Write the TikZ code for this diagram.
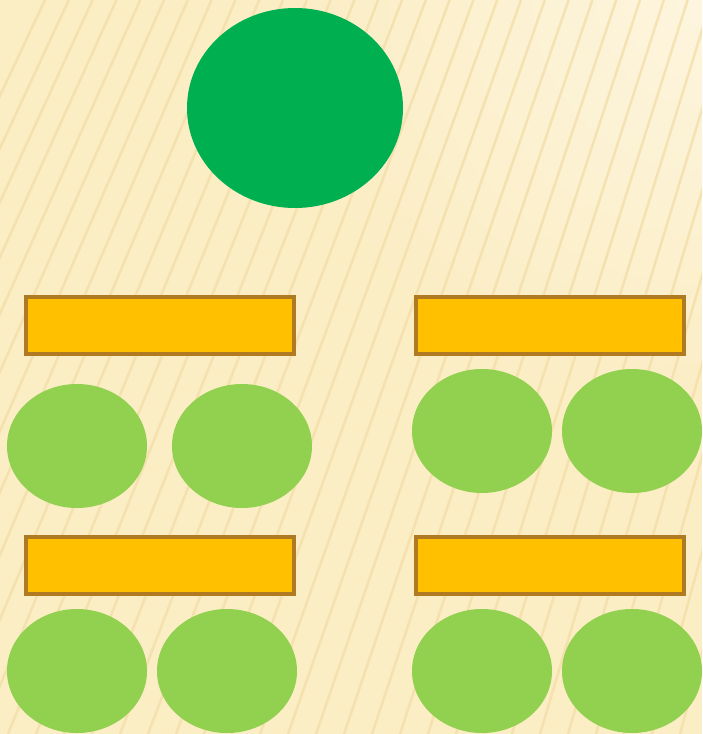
\documentclass[tikz,border=0pt]{standalone}
\usepackage{tikz}
\usetikzlibrary{shapes.geometric}
\usepackage{xcolor}
\definecolor{paper}{HTML}{FBEDC4}
\definecolor{paperlight}{HTML}{FDF5DE}
\definecolor{stripe}{HTML}{F2DCA4}
\definecolor{darkgreen}{HTML}{00B050}
\definecolor{lightgreen}{HTML}{92D050}
\definecolor{gold}{HTML}{FFC000}
\definecolor{rim}{HTML}{B07A22}

\begin{document}
\begin{tikzpicture}[x=1pt,y=-1pt,
  bigdot/.style={ellipse,fill=darkgreen,minimum width=216pt,minimum height=200pt,inner sep=0pt},
  dot/.style={ellipse,fill=lightgreen,minimum width=140pt,minimum height=124pt,inner sep=0pt},
  bar/.style={rectangle,fill=gold,draw=rim,line width=4pt,minimum width=268pt,minimum height=57pt,inner sep=0pt}]
  \useasboundingbox (0,0) rectangle (702,734);
  % background with diagonal stripes
  \begin{scope}
    \clip (0,0) rectangle (702,734);
    \fill[paper](0,0) rectangle (702,734);
    \shade[inner color=paperlight,outer color=paper](702,0) circle (420);
    \foreach \x in {-300,-272,...,740}{
      \draw[stripe,line width=2.5pt,opacity=0.7](\x,734)--({\x+300-0.15*\x},0);
    }
  \end{scope}
  % top
  \node[bigdot] (top) at (295,108) {};
  % bars
  \node[bar] (barA) at (160,325.5) {};
  \node[bar] (barB) at (550,325.5) {};
  \node[bar] (barC) at (160,565.5) {};
  \node[bar] (barD) at (550,565.5) {};
  % dots
  \node[dot] (a1) at (77,446) {}; \node[dot] (a2) at (242,446) {};
  \node[dot] (b1) at (482,431) {}; \node[dot] (b2) at (632,431) {};
  \node[dot] (c1) at (77,671) {}; \node[dot] (c2) at (227,671) {};
  \node[dot] (d1) at (482,671) {}; \node[dot] (d2) at (632,671) {};
\end{tikzpicture}
\end{document}
